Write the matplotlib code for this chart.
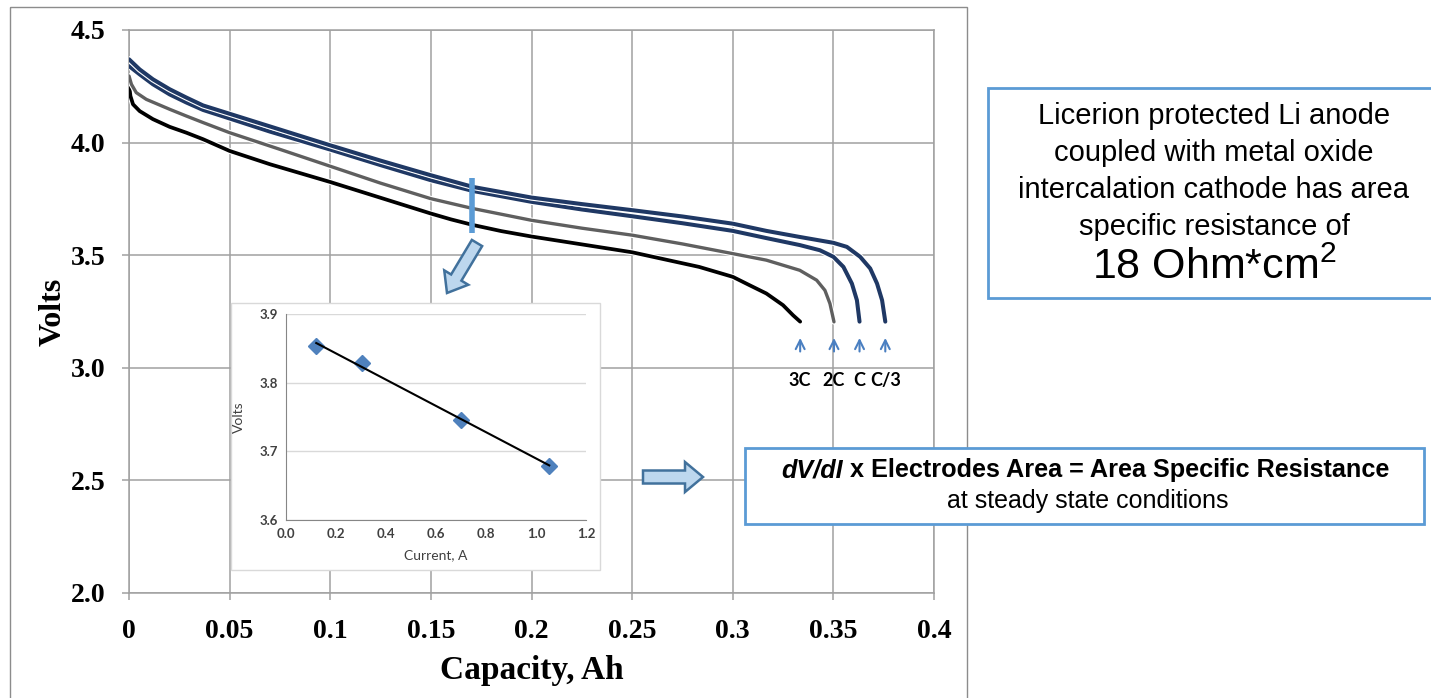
import numpy as np
import matplotlib.pyplot as plt
import matplotlib.patheffects as pe
from matplotlib.patches import Rectangle, FancyArrow
from matplotlib.offsetbox import TextArea, HPacker, AnnotationBbox

plt.rcParams['mathtext.fontset'] = 'custom'
plt.rcParams['mathtext.rm'] = 'Liberation Sans'
plt.rcParams['mathtext.it'] = 'Liberation Sans:italic'
plt.rcParams['mathtext.bf'] = 'Liberation Sans:bold'

# discharge curves: capacity (Ah) vs cell voltage (V)
cap_3c = [0, 0.0007, 0.002, 0.0053, 0.0119, 0.0202, 0.0285, 0.0368, 0.05, 0.07, 0.1, 0.125,
          0.15, 0.16, 0.171, 0.185, 0.2, 0.225, 0.25, 0.2833, 0.3, 0.3083, 0.3167, 0.325,
          0.33, 0.3335]
v_3c = [4.259, 4.207, 4.17, 4.14, 4.104, 4.07, 4.044, 4.015, 3.963, 3.904, 3.825, 3.755,
        3.685, 3.659, 3.634, 3.607, 3.583, 3.548, 3.513, 3.448, 3.404, 3.367, 3.33, 3.278,
        3.233, 3.205]

cap_2c = [0, 0.0012, 0.0036, 0.0086, 0.0202, 0.0285, 0.0368, 0.05, 0.075, 0.1, 0.125, 0.15,
          0.171, 0.2, 0.225, 0.25, 0.275, 0.3, 0.3167, 0.3333, 0.3417, 0.3458, 0.3483, 0.3503]
v_2c = [4.296, 4.259, 4.222, 4.192, 4.148, 4.118, 4.089, 4.044, 3.97, 3.895, 3.82, 3.751,
        3.707, 3.655, 3.62, 3.589, 3.55, 3.507, 3.478, 3.433, 3.389, 3.344, 3.285, 3.204]

cap_1c = [0, 0.0053, 0.0119, 0.0202, 0.0285, 0.0368, 0.05, 0.07, 0.1, 0.125, 0.15, 0.171,
          0.2, 0.225, 0.25, 0.275, 0.3, 0.3167, 0.3333, 0.3433, 0.35, 0.355, 0.3592, 0.3617, 0.363]
v_1c = [4.34, 4.303, 4.259, 4.214, 4.178, 4.145, 4.107, 4.049, 3.969, 3.90, 3.833, 3.785,
        3.737, 3.703, 3.673, 3.642, 3.608, 3.576, 3.545, 3.522, 3.493, 3.448, 3.374, 3.30, 3.205]

cap_c3 = [0, 0.0053, 0.0119, 0.0202, 0.0285, 0.0368, 0.05, 0.07, 0.1, 0.125, 0.15, 0.171,
          0.2, 0.225, 0.25, 0.275, 0.3, 0.3167, 0.3333, 0.35, 0.3567, 0.3633, 0.3683, 0.3717,
          0.3742, 0.3758]
v_c3 = [4.37, 4.325, 4.281, 4.237, 4.20, 4.165, 4.128, 4.072, 3.988, 3.92, 3.855, 3.803,
        3.756, 3.727, 3.70, 3.672, 3.640, 3.608, 3.581, 3.555, 3.537, 3.493, 3.441, 3.374,
        3.30, 3.205]

rate_labels = ['3C', '2C', 'C', 'C/3']
curve_caps = [cap_3c, cap_2c, cap_1c, cap_c3]
curve_volts = [v_3c, v_2c, v_1c, v_c3]
curve_colors = ['#000000', '#5f5f5f', '#1f3864', '#1f3864']
curve_widths = [2.7, 2.4, 2.9, 2.9]

xtick_vals = [0, 0.05, 0.1, 0.15, 0.2, 0.25, 0.3, 0.35, 0.4]
xtick_labels = ['0', '0.05', '0.1', '0.15', '0.2', '0.25', '0.3', '0.35', '0.4']
ytick_vals = [2.0, 2.5, 3.0, 3.5, 4.0, 4.5]

# inset: voltage at 0.17 Ah vs discharge current
current = [0.121, 0.305, 0.699, 1.053]
volts_at_cap = [3.853, 3.829, 3.746, 3.679]
marker_cap = 0.1705

W, H = 1431, 698
fig = plt.figure(figsize=(W / 100, H / 100), dpi=100)
gridc = '#a0a0a0'

ax = fig.add_axes([129 / W, 1 - 593 / H, 805 / W, 563 / H])
ax.set_zorder(1)
for c, v, col, lw in zip(curve_caps, curve_volts, curve_colors, curve_widths):
    ax.plot(c, v, color=col, lw=lw, solid_capstyle='round', solid_joinstyle='round', zorder=3,
            path_effects=[pe.Stroke(linewidth=lw + 1.6, foreground='white'), pe.Normal()])

ax.plot([marker_cap, marker_cap], [3.60, 3.845], color='#5b9bd5', lw=4, solid_capstyle='butt', zorder=4)

for lab, c in zip(rate_labels, curve_caps):
    xe = c[-1]
    ax.annotate('', xy=(xe, 3.145), xytext=(xe, 3.06),
                arrowprops=dict(arrowstyle='->', color='#4a7fc1', lw=1.5, mutation_scale=16))
    ax.text(xe, 2.945, lab, ha='center', va='center', family='Lato', weight='bold', fontsize=13)

ax.set_xlim(0, 0.4)
ax.set_ylim(2.0, 4.5)
ax.set_xticks(xtick_vals)
ax.set_xticklabels(xtick_labels)
ax.set_yticks(ytick_vals)
ax.set_yticklabels([f'{v:.1f}' for v in ytick_vals])
ax.grid(True, color=gridc, lw=1.1)
for s in ax.spines.values():
    s.set_color(gridc)
    s.set_linewidth(1.1)
ax.tick_params(direction='out', length=5, width=1.1, color=gridc)
ax.tick_params(axis='x', pad=14)
ax.tick_params(axis='y', pad=12)
for t in ax.get_xticklabels() + ax.get_yticklabels():
    t.set_family('Liberation Serif')
    t.set_weight('bold')
    t.set_fontsize(20)
ax.set_xlabel('Capacity, Ah', family='Liberation Serif', weight='bold', fontsize=24, labelpad=8)
ax.set_ylabel('Volts', family='Liberation Serif', weight='bold', fontsize=23, labelpad=2)

# overlay in pixel units for boxes, arrows and frame
ov = fig.add_axes([0, 0, 1, 1])
ov.set_zorder(2)
ov.set_xlim(0, W)
ov.set_ylim(H, 0)
ov.axis('off')
ov.patch.set_visible(False)

ov.add_patch(Rectangle((10, 7), 957, 700, fill=False, ec='#8c8c8c', lw=1))
ov.add_patch(Rectangle((231, 303), 369, 267, fc='white', ec='#d9d9d9', lw=1))

arrow_kw = dict(fc='#bdd7ee', ec='#41719c', lw=1.8, length_includes_head=True)
ov.add_patch(FancyArrow(477, 243, -30, 50, width=12, head_width=28, head_length=18, **arrow_kw))
ov.add_patch(FancyArrow(643, 477, 60, 0, width=13, head_width=30, head_length=18, **arrow_kw))

box_ec = '#5b9bd5'
ov.add_patch(Rectangle((988, 88), 460, 210, fc='white', ec=box_ec, lw=2))
box1_lines = ['Licerion protected Li anode', 'coupled with metal oxide',
              'intercalation cathode has area', 'specific resistance of']
for i, line in enumerate(box1_lines):
    ov.text(1214, 116 + i * 37, line, ha='center', va='center', family='Liberation Sans', fontsize=21)
ov.text(1214, 268, r'18 Ohm*cm$^{2}$', ha='center', va='center', family='Liberation Sans', fontsize=31)

ov.add_patch(Rectangle((745, 448), 679, 76, fc='white', ec=box_ec, lw=2))
part1 = TextArea('dV/dI', textprops=dict(family='Liberation Sans', weight='bold', style='italic', fontsize=18.2))
part2 = TextArea('x Electrodes Area = Area Specific Resistance',
                 textprops=dict(family='Liberation Sans', weight='bold', fontsize=18.2))
pack = HPacker(children=[part1, part2], pad=0, sep=5, align='baseline')
ov.add_artist(AnnotationBbox(pack, (1085, 470), frameon=False, box_alignment=(0.5, 0.5)))
ov.text(1088, 501, 'at steady state conditions', ha='center', va='center', family='Liberation Sans', fontsize=18)

# inset chart
ins = fig.add_axes([286 / W, 1 - 520 / H, 300 / W, 206 / H])
ins.set_zorder(3)
ins.plot(current, volts_at_cap, 'D', color='#4f81bd', ms=8, mec='#4f81bd', zorder=3)
k, b = np.polyfit(current, volts_at_cap, 1)
xf = np.array([min(current), max(current)])
ins.plot(xf, k * xf + b, color='black', lw=1.5, zorder=4)
ins.set_xlim(0, 1.2)
ins.set_ylim(3.6, 3.9)
ins.set_xticks(np.arange(0, 1.21, 0.2))
ins.set_xticklabels([f'{v:.1f}' for v in np.arange(0, 1.21, 0.2)])
ins.set_yticks([3.6, 3.7, 3.8, 3.9])
ins.set_yticklabels(['3.6', '3.7', '3.8', '3.9'])
ins.grid(True, axis='y', color='#d9d9d9', lw=1)
ins.set_axisbelow(True)
ins.spines['top'].set_visible(False)
ins.spines['right'].set_visible(False)
ins.spines['left'].set_color('#868686')
ins.spines['bottom'].set_color('#868686')
ins.tick_params(length=0, pad=6, labelsize=9.5, labelcolor='#404040')
for t in ins.get_xticklabels() + ins.get_yticklabels():
    t.set_family('Lato')
    t.set_weight('bold')
ins.set_xlabel('Current, A', family='Lato', fontsize=10, color='#404040', labelpad=6)
ins.set_ylabel('Volts', family='Lato', fontsize=10, color='#404040', labelpad=10)

fig.savefig('out.png', dpi=100)
